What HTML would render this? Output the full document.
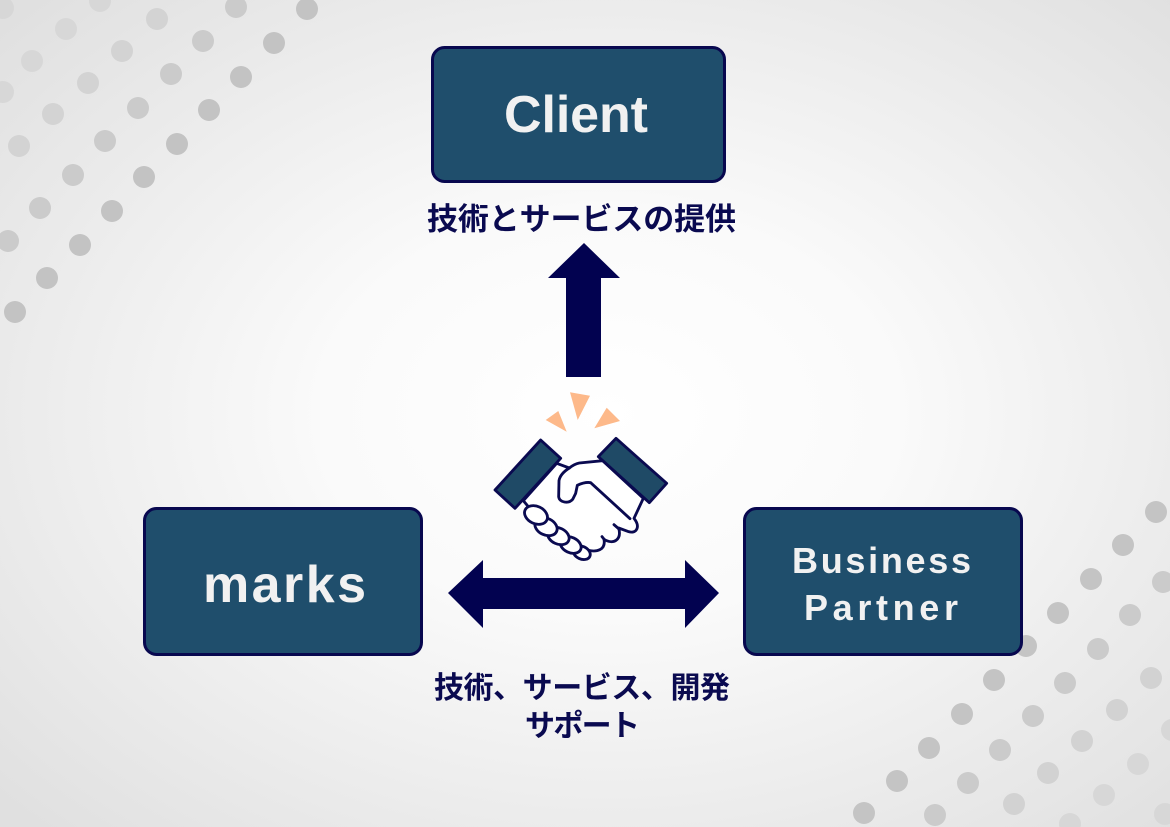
<!DOCTYPE html>
<html><head><meta charset="utf-8">
<style>
html,body{margin:0;padding:0;}
body{width:1170px;height:827px;overflow:hidden;background:radial-gradient(ellipse 70% 70% at 52% 50%,#ffffff 0%,#fafafa 35%,#ececec 70%,#e0e0e0 100%);}
svg{position:absolute;left:0;top:0;}
.lat{font-family:"Liberation Sans",Arial,sans-serif;font-weight:bold;fill:#f1f1f1;}
.jp{font-family:"Liberation Sans","Noto Sans CJK JP",sans-serif;font-weight:bold;fill:#0a0a50;}
</style></head>
<body>
<svg width="1170" height="827" viewBox="0 0 1170 827" xmlns="http://www.w3.org/2000/svg">
<!-- top-left dots -->
<g fill="#c3c3c3">
<circle cx="307" cy="9" r="11"/><circle cx="274" cy="43" r="11"/><circle cx="241" cy="77" r="11"/><circle cx="209" cy="110" r="11"/><circle cx="177" cy="144" r="11"/><circle cx="144" cy="177" r="11"/><circle cx="112" cy="211" r="11"/><circle cx="80" cy="245" r="11"/><circle cx="47" cy="278" r="11"/><circle cx="15" cy="312" r="11"/>
</g>
<g fill="#cbcbcb">
<circle cx="236" cy="7" r="11"/><circle cx="203" cy="41" r="11"/><circle cx="171" cy="74" r="11"/><circle cx="138" cy="108" r="11"/><circle cx="105" cy="141" r="11"/><circle cx="73" cy="175" r="11"/><circle cx="40" cy="208" r="11"/><circle cx="8" cy="241" r="11"/>
</g>
<g fill="#d3d3d3">
<circle cx="157" cy="19" r="11"/><circle cx="122" cy="51" r="11"/><circle cx="88" cy="83" r="11"/><circle cx="53" cy="114" r="11"/><circle cx="19" cy="146" r="11"/>
</g>
<g fill="#d7d7d7">
<circle cx="100" cy="1" r="11"/><circle cx="66" cy="29" r="11"/><circle cx="32" cy="61" r="11"/><circle cx="3" cy="92" r="11"/><circle cx="3" cy="8" r="11"/>
</g>
<!-- bottom-right dots -->
<g fill="#c4c4c4">
<circle cx="1156" cy="512" r="11"/><circle cx="1123" cy="545" r="11"/><circle cx="1091" cy="579" r="11"/><circle cx="1058" cy="613" r="11"/><circle cx="1026" cy="646" r="11"/><circle cx="994" cy="680" r="11"/><circle cx="962" cy="714" r="11"/><circle cx="929" cy="748" r="11"/><circle cx="897" cy="781" r="11"/><circle cx="864" cy="813" r="11"/>
</g>
<g fill="#cbcbcb">
<circle cx="1163" cy="582" r="11"/><circle cx="1130" cy="615" r="11"/><circle cx="1098" cy="649" r="11"/><circle cx="1065" cy="683" r="11"/><circle cx="1033" cy="716" r="11"/><circle cx="1000" cy="750" r="11"/><circle cx="968" cy="783" r="11"/><circle cx="935" cy="815" r="11"/>
</g>
<g fill="#d2d2d2">
<circle cx="1151" cy="678" r="11"/><circle cx="1117" cy="710" r="11"/><circle cx="1082" cy="741" r="11"/><circle cx="1048" cy="773" r="11"/><circle cx="1014" cy="804" r="11"/>
</g>
<g fill="#d7d7d7">
<circle cx="1172" cy="730" r="11"/><circle cx="1138" cy="764" r="11"/><circle cx="1104" cy="795" r="11"/><circle cx="1070" cy="824" r="11"/><circle cx="1165" cy="814" r="11"/>
</g>

<!-- boxes -->
<g fill="#1f4e6c" stroke="#08084f" stroke-width="3">
<rect x="432.5" y="47.5" width="292" height="134" rx="12"/>
<rect x="144.5" y="508.5" width="277" height="146" rx="12"/>
<rect x="744.5" y="508.5" width="277" height="146" rx="12"/>
</g>
<text class="lat" x="576" y="132" font-size="52" text-anchor="middle" textLength="144" lengthAdjust="spacing">Client</text>
<text class="lat" x="284.5" y="602" font-size="52" text-anchor="middle" textLength="163" lengthAdjust="spacing">marks</text>
<text class="lat" x="881.5" y="573" font-size="36" text-anchor="middle" textLength="179" lengthAdjust="spacing">Business</text>
<text class="lat" x="881" y="620" font-size="36" text-anchor="middle" textLength="154" lengthAdjust="spacing">Partner</text>

<!-- labels -->
<text class="jp" x="581.5" y="230" font-size="31" text-anchor="middle" textLength="309" lengthAdjust="spacing">技術とサービスの提供</text>
<text class="jp" x="582" y="698" font-size="30" text-anchor="middle" textLength="296" lengthAdjust="spacing">技術、サービス、開発</text>
<text class="jp" x="582.5" y="736" font-size="30" text-anchor="middle" textLength="115" lengthAdjust="spacing">サポート</text>

<!-- arrows -->
<polygon fill="#020250" points="584,243 620,278 601,278 601,377 566,377 566,278 548,278"/>
<polygon fill="#020250" points="448,593 483,560 483,578 685,578 685,560 719,593 685,628 685,609 483,609 483,628"/>

<!-- sparks -->
<g fill="#fdb98a">
<polygon points="570,392.3 590,395.7 577.7,420"/>
<polygon points="545.7,420 558.3,411 566.7,431.7"/>
<polygon points="594.3,428.3 606.7,407.7 620,421"/>
</g>

<!-- handshake -->
<g transform="translate(490,430) scale(0.33333)" stroke="#0a0a50" stroke-width="8.5" stroke-linejoin="round" stroke-linecap="round">
<path fill="#ffffff" d="M 200,100 L 238,114 C 248,106 258,101 268,99 L 338,92 L 460,205 L 432,265 C 452,290 440,312 416,305 L 386,294 C 396,330 370,345 342,328 C 348,360 320,368 292,360 L 270,368 L 242,345 L 205,318 L 168,290 L 138,255 L 120,236 L 100,212 Z"/>
<ellipse fill="#ffffff" cx="275" cy="368" rx="27" ry="19" transform="rotate(25 275 368)"/>
<ellipse fill="#ffffff" cx="242" cy="345" rx="33" ry="23" transform="rotate(25 242 345)"/>
<ellipse fill="#ffffff" cx="205" cy="318" rx="34" ry="24" transform="rotate(25 205 318)"/>
<ellipse fill="#ffffff" cx="168" cy="290" rx="35" ry="25" transform="rotate(25 168 290)"/>
<ellipse fill="#ffffff" cx="138" cy="255" rx="36" ry="26" transform="rotate(25 138 255)"/>
<path fill="none" d="M 238,114 C 222,124 210,135 207,152 L 206,200 C 208,218 236,222 248,208 L 257,190 L 262,166 C 275,160 290,156 302,158 L 420,266"/>
<path fill="none" d="M 372,284 L 387,297 M 336,320 L 344,330"/>
<polygon fill="#1f4a66" points="15,180 152,30 212,85 75,235"/>
<polygon fill="#1f4a66" points="325,80 378,25 530,160 478,218"/>
</g>
</svg>
</body></html>
